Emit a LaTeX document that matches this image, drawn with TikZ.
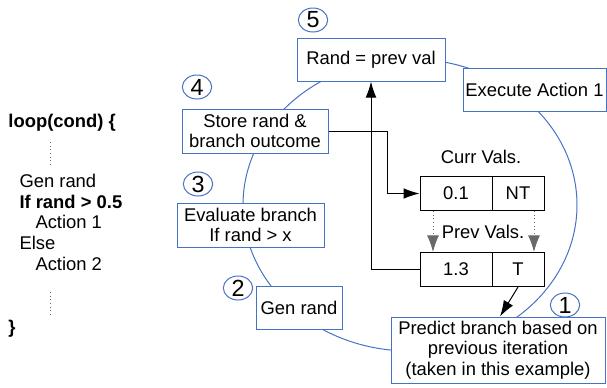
\documentclass[tikz,border=0pt]{standalone}
\usepackage{fontspec}
\setmainfont{Liberation Sans}
\usetikzlibrary{arrows.meta,shapes.geometric}

\definecolor{boxblue}{RGB}{70,114,196}
\definecolor{dotgray}{RGB}{105,105,105}

\tikzset{every picture/.style={line width=0.75pt}}
\tikzset{
  stepbox/.style={draw=boxblue, fill=white, align=center, inner sep=0pt,
    font=\fontsize{13.8}{15.5}\selectfont},
  numtag/.style={ellipse, draw=boxblue, minimum width=22pt, minimum height=18pt,
    inner sep=0pt, font=\fontsize{17.5}{17.5}\selectfont},
  regcell/.style={draw=black, fill=white, minimum height=25.5pt, inner sep=0pt,
    font=\fontsize{13.8}{15.5}\selectfont},
  codeline/.style={anchor=base west, inner sep=0pt, font=\fontsize{13.8}{15.5}\selectfont},
  plain/.style={inner sep=0pt, font=\fontsize{13.8}{15.5}\selectfont},
  flow/.style={-{Latex[length=12pt,width=8pt]}},
  copyval/.style={dotgray, dotted, -{Latex[length=12.5pt,width=9pt]}},
}

\begin{document}
\begin{tikzpicture}[x=0.75pt,y=0.75pt,yscale=-1,xscale=1]
\useasboundingbox (0,0) rectangle (607,387);

% pseudo code
\node [codeline, font=\fontsize{13.8}{15.5}\selectfont\bfseries] (loophead) at (8,127) {loop(cond) \{};
\draw [dotgray, dotted] (50,142) -- (50,167);
\node [codeline] (genline) at (19,187) {Gen rand};
\node [codeline, font=\fontsize{13.8}{15.5}\selectfont\bfseries] (ifline) at (19,208) {If rand > 0.5};
\node [codeline] (act1line) at (35,228) {Action 1};
\node [codeline] (elseline) at (19,249) {Else};
\node [codeline] (act2line) at (35,270) {Action 2};
\draw [dotgray, dotted] (50,292) -- (50,317);
\node [codeline, font=\fontsize{13.8}{15.5}\selectfont\bfseries] (loopend) at (8,333) {\}};

% cycle
\draw [boxblue] (410,205) ellipse [x radius=125.25pt, y radius=109.5pt];

% steps
\node [stepbox, minimum width=111pt, minimum height=32.25pt] (setrand) at (371,59.5) {Rand = prev val};
\node [stepbox, minimum width=107.25pt, minimum height=32.25pt] (execact) at (534.5,89.5) {Execute Action 1};
\node [stepbox, minimum width=109.5pt, minimum height=33pt] (store) at (255,131) {Store rand \&\\branch outcome};
\node [stepbox, minimum width=110.25pt, minimum height=33pt] (evalbr) at (250.5,225) {Evaluate branch\\If rand > x};
\node [stepbox, minimum width=64.5pt, minimum height=32.25pt] (genrand) at (299,307.5) {Gen rand};
\node [stepbox, minimum width=160.5pt, minimum height=49.5pt] (predict) at (498,350) {Predict branch based on\\previous iteration\\(taken in this example)};

% numbers
\node [numtag] (tag5) at (313,20) {5};
\node [numtag] (tag4) at (197,87) {4};
\node [numtag] (tag3) at (198,184) {3};
\node [numtag] (tag2) at (238,288) {2};
\node [numtag] (tag1) at (565,305) {1};

% registers
\node [plain] (currlbl) at (481,157) {Curr Vals.};
\node [regcell, minimum width=54pt] (curr1) at (456,193.5) {0.1};
\node [regcell, minimum width=39pt] (curr2) at (518,193.5) {NT};
\node [plain] (prevlbl) at (483,232) {Prev Vals.};
\node [regcell, minimum width=54pt] (prev1) at (456,269.5) {1.3};
\node [regcell, minimum width=39pt] (prev2) at (518,269.5) {T};

% connectors
\draw [flow] (store.east) -- ++(59,0) |- (curr1.west);
\draw [flow] (prev1.west) -| (setrand.south);
\draw [copyval] ([xshift=-17.25pt]curr1.south) -- ([xshift=-17.25pt]prev1.north);
\draw [copyval] ([xshift=12pt]curr2.south) -- ([xshift=12pt]prev2.north);
\draw [flow] (prev2.south) -- ([xshift=1.5pt]predict.north);

\end{tikzpicture}
\end{document}
